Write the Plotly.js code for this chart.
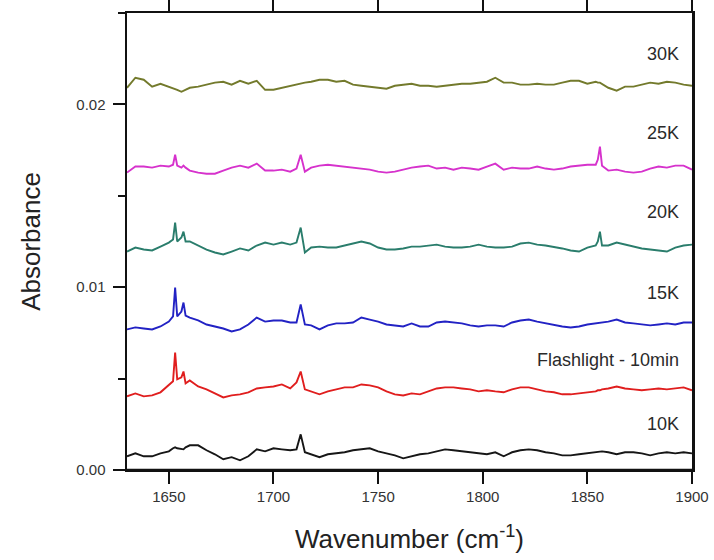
<!DOCTYPE html>
<html>
<head>
<meta charset="utf-8">
<script src="https://cdn.plot.ly/plotly-3.0.1.min.js"></script>
<style>html,body{margin:0;padding:0;background:#fff;}#chart{width:714px;height:560px;}</style>
</head>
<body>
<div id="chart"></div>
<script>
// Wavenumber grid (cm^-1)
const wavenumber = [1630,1634,1638,1642,1646,1650,1652,1653,1654,1656,
  1657,1658,1660,1664,1668,1672,1676,1680,1684,1688,
  1692,1696,1700,1704,1708,1711,1713,1715,1718,1722,
  1726,1730,1734,1738,1742,1746,1750,1754,1758,1762,
  1766,1770,1774,1778,1782,1786,1790,1794,1798,1802,
  1806,1810,1814,1818,1822,1826,1830,1834,1838,1842,
  1846,1850,1854,1855,1856,1857,1860,1864,1868,1872,
  1876,1880,1884,1888,1892,1896,1900];

const abs10K = [0.00075,0.00091,0.00075,0.00075,0.00091,0.00102,0.00119,0.00124,0.00119,0.00113,
  0.00113,0.00124,0.00135,0.00135,0.00108,0.00086,0.00059,0.00070,0.00053,0.00075,
  0.00113,0.00102,0.00119,0.00113,0.00108,0.00113,0.00195,0.00097,0.00086,0.00070,
  0.00086,0.00091,0.00097,0.00108,0.00113,0.00119,0.00102,0.00091,0.00080,0.00064,
  0.00075,0.00086,0.00091,0.00102,0.00113,0.00108,0.00102,0.00097,0.00091,0.00086,
  0.00097,0.00075,0.00097,0.00108,0.00113,0.00108,0.00097,0.00091,0.00080,0.00080,
  0.00086,0.00091,0.00097,0.00097,0.00102,0.00102,0.00097,0.00086,0.00097,0.00097,
  0.00091,0.00080,0.00091,0.00097,0.00091,0.00097,0.00091];

const absFlash = [0.00403,0.00419,0.00403,0.00408,0.00425,0.00463,0.00485,0.00643,0.00496,0.00507,
  0.00539,0.00474,0.00490,0.00457,0.00441,0.00419,0.00397,0.00408,0.00414,0.00425,
  0.00446,0.00452,0.00457,0.00468,0.00446,0.00479,0.00539,0.00441,0.00430,0.00414,
  0.00430,0.00441,0.00452,0.00452,0.00468,0.00463,0.00452,0.00430,0.00414,0.00408,
  0.00419,0.00414,0.00430,0.00446,0.00452,0.00452,0.00446,0.00441,0.00430,0.00436,
  0.00430,0.00425,0.00441,0.00452,0.00452,0.00441,0.00430,0.00425,0.00414,0.00414,
  0.00419,0.00425,0.00430,0.00436,0.00436,0.00441,0.00446,0.00457,0.00446,0.00441,
  0.00436,0.00441,0.00446,0.00441,0.00446,0.00452,0.00436];

const abs15K = [0.00769,0.00780,0.00774,0.00769,0.00785,0.00812,0.00840,0.00998,0.00840,0.00867,
  0.00916,0.00845,0.00834,0.00818,0.00796,0.00785,0.00774,0.00758,0.00769,0.00796,
  0.00834,0.00812,0.00818,0.00818,0.00807,0.00807,0.00906,0.00796,0.00791,0.00769,
  0.00791,0.00802,0.00802,0.00807,0.00834,0.00823,0.00812,0.00796,0.00791,0.00785,
  0.00802,0.00785,0.00785,0.00807,0.00812,0.00807,0.00802,0.00791,0.00785,0.00791,
  0.00791,0.00785,0.00807,0.00818,0.00823,0.00812,0.00802,0.00796,0.00785,0.00780,
  0.00785,0.00796,0.00802,0.00807,0.00807,0.00807,0.00812,0.00823,0.00807,0.00802,
  0.00796,0.00791,0.00796,0.00802,0.00796,0.00807,0.00807];

const abs20K = [0.01195,0.01217,0.01206,0.01201,0.01222,0.01244,0.01261,0.01353,0.01250,0.01272,
  0.01304,0.01250,0.01250,0.01228,0.01206,0.01190,0.01179,0.01195,0.01212,0.01201,
  0.01228,0.01244,0.01233,0.01244,0.01233,0.01244,0.01326,0.01190,0.01217,0.01222,
  0.01217,0.01217,0.01228,0.01239,0.01250,0.01239,0.01217,0.01206,0.01206,0.01212,
  0.01222,0.01222,0.01228,0.01233,0.01222,0.01217,0.01217,0.01222,0.01233,0.01222,
  0.01217,0.01217,0.01222,0.01239,0.01244,0.01233,0.01228,0.01222,0.01212,0.01201,
  0.01195,0.01217,0.01228,0.01250,0.01304,0.01228,0.01228,0.01244,0.01233,0.01222,
  0.01212,0.01206,0.01201,0.01195,0.01217,0.01228,0.01233];

const abs25K = [0.01627,0.01660,0.01660,0.01654,0.01665,0.01660,0.01670,0.01725,0.01665,0.01654,
  0.01665,0.01654,0.01638,0.01627,0.01621,0.01621,0.01638,0.01654,0.01665,0.01654,
  0.01676,0.01638,0.01638,0.01643,0.01632,0.01649,0.01725,0.01632,0.01654,0.01665,
  0.01670,0.01665,0.01660,0.01654,0.01649,0.01643,0.01632,0.01627,0.01632,0.01643,
  0.01654,0.01660,0.01665,0.01649,0.01654,0.01643,0.01654,0.01649,0.01643,0.01660,
  0.01676,0.01643,0.01654,0.01649,0.01649,0.01660,0.01649,0.01643,0.01649,0.01660,
  0.01665,0.01670,0.01670,0.01698,0.01769,0.01665,0.01638,0.01643,0.01632,0.01627,
  0.01632,0.01649,0.01660,0.01654,0.01665,0.01665,0.01643];

const abs30K = [0.02091,0.02146,0.02135,0.02097,0.02113,0.02097,0.02091,0.02086,0.02080,0.02069,
  0.02075,0.02080,0.02091,0.02097,0.02108,0.02119,0.02124,0.02108,0.02129,0.02113,
  0.02129,0.02080,0.02080,0.02091,0.02102,0.02108,0.02113,0.02119,0.02124,0.02135,
  0.02135,0.02124,0.02129,0.02108,0.02102,0.02097,0.02091,0.02086,0.02102,0.02108,
  0.02113,0.02102,0.02102,0.02097,0.02102,0.02108,0.02113,0.02113,0.02119,0.02124,
  0.02146,0.02119,0.02119,0.02108,0.02108,0.02113,0.02108,0.02108,0.02119,0.02129,
  0.02129,0.02113,0.02124,0.02119,0.02119,0.02113,0.02091,0.02075,0.02097,0.02097,
  0.02108,0.02119,0.02113,0.02124,0.02119,0.02108,0.02102];

const seriesNames = ["10K", "Flashlight - 10min", "15K", "20K", "25K", "30K"];
const seriesValues = [abs10K, absFlash, abs15K, abs20K, abs25K, abs30K];
const seriesColors = ["#161616", "#e01e1e", "#2222c4", "#2a7d6c", "#d632cc", "#737a2c"];
const labelY = [0.00250, 0.00600, 0.00969, 0.01414, 0.01845, 0.02277];

const font = "Liberation Sans, Arial, Helvetica, sans-serif";

const traces = seriesValues.map((vals, i) => ({
  type: "scatter", mode: "lines",
  x: wavenumber, y: vals, name: seriesNames[i],
  line: {color: seriesColors[i], width: 1.9},
  hoverinfo: "x+y+name"
}));

const annotations = seriesNames.map((name, i) => ({
  text: name, xref: "paper", yref: "y", x: 0.981, y: labelY[i],
  xanchor: "right", yanchor: "middle", showarrow: false,
  font: {family: font, size: 18, color: "#2a2a2a"}
}));

const layout = {
  width: 714, height: 560,
  margin: {l: 127, r: 22, t: 13, b: 90},
  paper_bgcolor: "#fff", plot_bgcolor: "#fff",
  showlegend: false,
  font: {family: font, color: "#333"},
  xaxis: {
    anchor: "y", side: "bottom",
    range: [1630, 1900], tick0: 1650, dtick: 50,
    ticks: "outside", ticklen: 12, tickwidth: 2, tickcolor: "#111",
    showline: true, linewidth: 2, linecolor: "#111", mirror: "ticks",
    layer: "above traces",
    showgrid: false, zeroline: false,
    tickfont: {size: 15, color: "#333"},
    title: {text: "Wavenumber (cm<sup>-1</sup>)", font: {size: 26, color: "#222"}, standoff: 26}
  },
  yaxis: {
    range: [0, 0.025], tick0: 0, dtick: 0.01, tickformat: ".2f",
    ticks: "outside", ticklen: 12, tickwidth: 2, tickcolor: "#111",
    minor: {dtick: 0.005, ticks: "outside", ticklen: 7, tickwidth: 2, tickcolor: "#111", showgrid: false},
    showline: true, linewidth: 2.5, linecolor: "#111", mirror: true,
    showgrid: false, zeroline: false,
    tickfont: {size: 15, color: "#333"},
    ticklabelstandoff: 4,
    title: {text: "Absorbance", font: {size: 26, color: "#222"}, standoff: 28}
  },
  shapes: [{
    type: "line", xref: "paper", yref: "paper", x0: 0, x1: 1, y0: 0, y1: 0,
    line: {color: "#111", width: 2.5}, layer: "above"
  }],
  annotations: annotations
};

Plotly.newPlot("chart", traces, layout, {displayModeBar: false, staticPlot: true});
</script>
</body>
</html>
